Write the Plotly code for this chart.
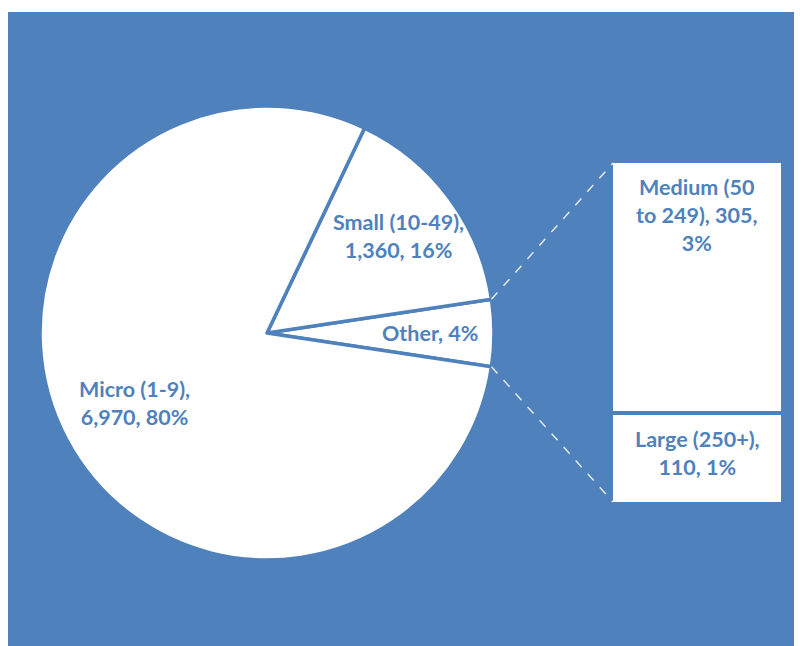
import math
import plotly.graph_objects as go

# ---- data ----
pie_labels = ["Other", "Small (10-49)", "Micro (1-9)"]
bar_labels = ["Large (250+)", "Medium (50 to 249)"]
bar_values = [110, 305]
small_value = 1360
micro_value = 6970
other_value = sum(bar_values)
pie_values = [other_value, small_value, micro_value]
pie_texts = ["Other, 4%", "Small (10-49),<br>1,360, 16%", "Micro (1-9),<br>6,970, 80%"]
bar_texts = ["Large (250+),<br>110, 1%", "Medium (50<br>to 249), 305,<br>3%"]

# ---- styling / layout constants (figure pixels) ----
W, H = 802, 646
BLUE = "#4F81BD"
FONT = "Lato"
FS = 21.5
CX, CY, R = 259, 325, 227          # pie centre / radius
BX0, BX1, BY0, BY1 = 603, 775, 153, 496  # bar box outer edges
label_frac = [0.72, 0.72, 0.66]

total = sum(pie_values)
other_deg = 360 * other_value / total
rotation = 90 - other_deg / 2

fig = go.Figure()

fig.add_trace(go.Pie(
    labels=pie_labels, values=pie_values, sort=False,
    direction="counterclockwise", rotation=rotation,
    marker=dict(colors=["white"] * 3, line=dict(color=BLUE, width=3.5)),
    textinfo="none", hoverinfo="label+value+percent", showlegend=False,
    domain=dict(x=[(CX - R) / W, (CX + R) / W],
                y=[(H - CY - R) / H, (H - CY + R) / H]),
))

for lab, val in zip(bar_labels, bar_values):
    fig.add_trace(go.Bar(
        x=["Other"], y=[val], name=lab, width=1,
        marker=dict(color="white", line=dict(color=BLUE, width=4)),
        xaxis="x2", yaxis="y2", showlegend=False,
    ))

# pie labels, placed at mid-angle of each slice
start = -other_deg / 2
for txt, val, frac in zip(pie_texts, pie_values, label_frac):
    span = 360 * val / total
    mid = math.radians(start + span / 2)
    start += span
    px = CX + frac * R * math.cos(mid)
    py = CY - frac * R * math.sin(mid)
    fig.add_annotation(x=px / W, y=(H - py) / H, xref="paper", yref="paper",
                       text=txt, showarrow=False, xanchor="center", yanchor="middle",
                       font=dict(family=FONT, size=FS, color=BLUE, weight="bold"))

# bar labels at the top of each segment
cum = 0
for txt, val in zip(bar_texts, bar_values):
    cum += val
    fig.add_annotation(x="Other", y=cum, xref="x2", yref="y2", text=txt,
                       showarrow=False, xanchor="center", yanchor="top", yshift=-11,
                       font=dict(family=FONT, size=FS, color=BLUE, weight="bold"))

# connector lines from the "Other" slice edges to the bar corners
a = math.radians(other_deg / 2)
ex = CX + R * math.cos(a)
ey_top = CY - R * math.sin(a)
ey_bot = CY + R * math.sin(a)
shapes = [
    dict(type="rect", xref="paper", yref="paper", x0=0, x1=1, y0=0, y1=(H - 4) / H,
         fillcolor=BLUE, line=dict(width=0), layer="below"),
    dict(type="line", xref="paper", yref="paper", x0=ex / W, y0=(H - ey_top) / H,
         x1=(BX0 + 2) / W, y1=(H - BY0 - 2) / H,
         line=dict(color="#E3E9F2", width=1.5, dash="dash")),
    dict(type="line", xref="paper", yref="paper", x0=ex / W, y0=(H - ey_bot) / H,
         x1=(BX0 + 2) / W, y1=(H - BY1 + 2) / H,
         line=dict(color="#E3E9F2", width=1.5, dash="dash")),
]

fig.update_layout(
    width=W, height=H, margin=dict(l=0, r=0, t=0, b=0),
    paper_bgcolor="white", plot_bgcolor="rgba(0,0,0,0)",
    barmode="stack", bargap=0, shapes=shapes,
    xaxis2=dict(domain=[BX0 / W, BX1 / W], range=[-0.5, 0.5], visible=False, anchor="y2"),
    yaxis2=dict(domain=[(H - BY1) / H, (H - BY0) / H], range=[0, other_value], visible=False, anchor="x2"),
    xaxis=dict(visible=False), yaxis=dict(visible=False),
)

fig.write_html("out.html")
